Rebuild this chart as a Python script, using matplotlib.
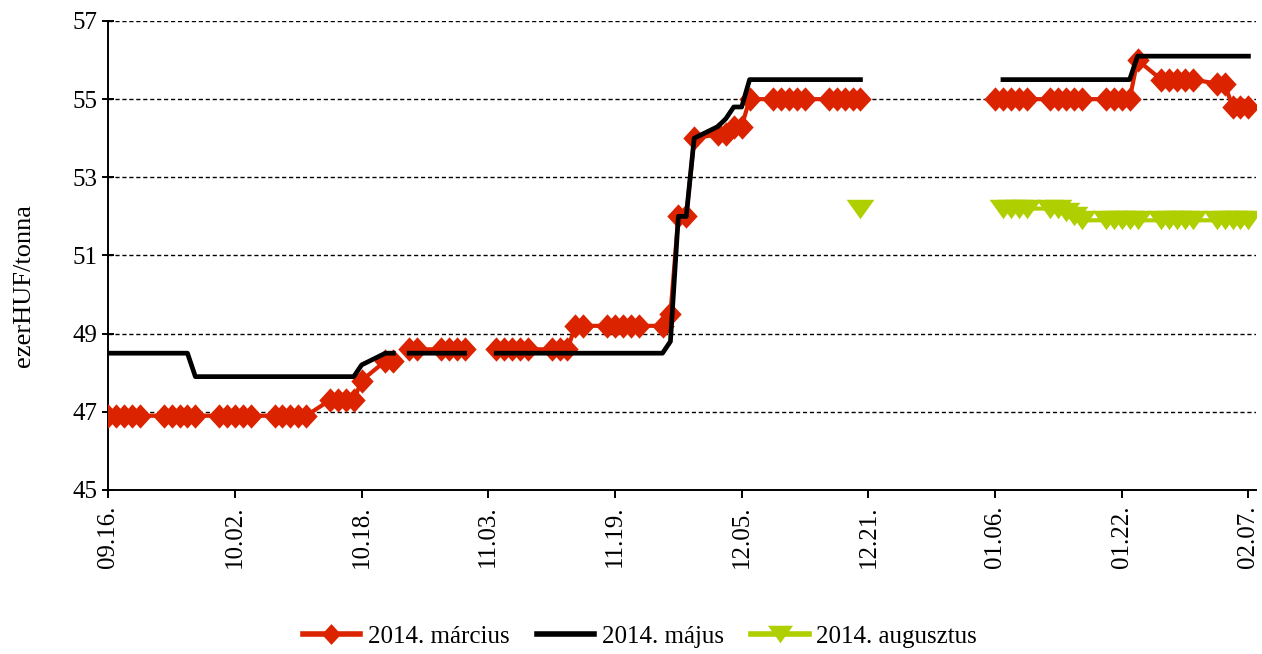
import numpy as np
import pandas as pd
import matplotlib
matplotlib.use("Agg")
import matplotlib.pyplot as plt
import matplotlib.dates as mdates
from matplotlib.lines import Line2D

plt.rcParams["font.family"] = ["Liberation Serif", "DejaVu Serif"]
plt.rcParams["font.size"] = 18

nan = np.nan

# kereskedési napok (hétfő-péntek), 2013.09.16 - 2014.02.07
days = pd.bdate_range("2013-09-16", "2014-02-07")

# heti bontásban, hétfőtől péntekig
marcius = [
    46.9, 46.9, 46.9, 46.9, 46.9,
    46.9, 46.9, 46.9, 46.9, 46.9,
    46.9, 46.9, 46.9, 46.9, 46.9,
    46.9, 46.9, 46.9, 46.9, 46.9,
    47.3, 47.3, 47.3, 47.3, 47.8,
    48.3, 48.3, nan, 48.6, 48.6,
    48.6, 48.6, 48.6, 48.6, nan,
    48.6, 48.6, 48.6, 48.6, 48.6,
    48.6, 48.6, 48.6, 49.2, 49.2,
    49.2, 49.2, 49.2, 49.2, 49.2,
    49.2, 49.5, 52.0, 52.0, 54.0,
    54.1, 54.1, 54.3, 54.3, 55.0,
    55.0, 55.0, 55.0, 55.0, 55.0,
    55.0, 55.0, 55.0, 55.0, 55.0,
    nan, nan, nan, nan, nan,
    nan, nan, nan, nan, nan,
    55.0, 55.0, 55.0, 55.0, 55.0,
    55.0, 55.0, 55.0, 55.0, 55.0,
    55.0, 55.0, 55.0, 55.0, 56.0,
    55.5, 55.5, 55.5, 55.5, 55.5,
    55.4, 55.4, 54.8, 54.8, 54.8,
]

majus = [
    48.5, 48.5, 48.5, 48.5, 48.5,
    48.5, 48.5, 48.5, 48.5, 47.9,
    47.9, 47.9, 47.9, 47.9, 47.9,
    47.9, 47.9, 47.9, 47.9, 47.9,
    47.9, 47.9, 47.9, 47.9, 48.2,
    48.5, 48.5, nan, 48.5, 48.5,
    48.5, 48.5, 48.5, 48.5, nan,
    48.5, 48.5, 48.5, 48.5, 48.5,
    48.5, 48.5, 48.5, 48.5, 48.5,
    48.5, 48.5, 48.5, 48.5, 48.5,
    48.5, 48.8, 52.0, 52.0, 54.0,
    54.3, 54.5, 54.8, 54.8, 55.5,
    55.5, 55.5, 55.5, 55.5, 55.5,
    55.5, 55.5, 55.5, 55.5, 55.5,
    nan, nan, nan, nan, nan,
    nan, nan, nan, nan, nan,
    nan, 55.5, 55.5, 55.5, 55.5,
    55.5, 55.5, 55.5, 55.5, 55.5,
    55.5, 55.5, 55.5, 55.5, 56.1,
    56.1, 56.1, 56.1, 56.1, 56.1,
    56.1, 56.1, 56.1, 56.1, 56.1,
]

augusztus = [nan] * 65 + [
    nan, nan, nan, nan, 52.2,
    nan, nan, nan, nan, nan,
    nan, nan, nan, nan, nan,
    nan, 52.2, 52.2, 52.2, 52.2,
    52.2, 52.2, 52.1, 52.0, 51.9,
    51.9, 51.9, 51.9, 51.9, 51.9,
    51.9, 51.9, 51.9, 51.9, 51.9,
    51.9, 51.9, 51.9, 51.9, 51.9,
]

series_labels = ["2014. március", "2014. május", "2014. augusztus"]
y_ticks = [45, 47, 49, 51, 53, 55, 57]
x_ticks = pd.date_range("2013-09-16", periods=10, freq="16D")

RED = "#DC2300"
GREEN = "#AFCF00"

# Excel-szerű markerek: rombusz, lapos lefelé álló háromszög
diamond = [(0, 1), (0.92, 0), (0, -1), (-0.92, 0), (0, 1)]
tri_down = [(-1, 0.7), (1, 0.7), (0, -0.7), (-1, 0.7)]

fig = plt.figure(figsize=(12.62, 6.54), dpi=100)
ax = fig.add_axes([0.0858, 0.2508, 0.9097, 0.7171])

ax.plot(days, marcius, color=RED, lw=3, marker=diamond, ms=17.5,
        mfc=RED, mec=RED, mew=0, zorder=3)
ax.plot(days, majus, color="black", lw=3.4, zorder=4)
ax.plot(days, augusztus, color=GREEN, lw=3, marker=tri_down, ms=20,
        mfc=GREEN, mec=GREEN, mew=0, zorder=5)

ax.set_xlim(pd.Timestamp("2013-09-16"), pd.Timestamp("2014-02-08"))
ax.set_ylim(45, 57)
ax.set_yticks(y_ticks)
ax.set_xticks(x_ticks)
ax.xaxis.set_major_formatter(mdates.DateFormatter("%m.%d."))
plt.setp(ax.get_xticklabels(), rotation=90)

for y in y_ticks[1:]:
    ax.axhline(y, color="black", lw=1.0, ls=(0, (3, 2)), zorder=1)

for side in ["top", "right"]:
    ax.spines[side].set_visible(False)
for side in ["left", "bottom"]:
    ax.spines[side].set_linewidth(1.4)
ax.tick_params(axis="y", direction="inout", length=9, width=1.4, pad=3)
ax.tick_params(axis="x", direction="out", length=6, width=1.4, pad=5)

ax.set_ylabel("ezerHUF/tonna", fontsize=19)
ax.yaxis.set_label_coords(-0.064, 0.435)

handles = [
    Line2D([], [], color=RED, lw=4, marker=diamond, ms=15, mfc=RED, mew=0),
    Line2D([], [], color="black", lw=4),
    Line2D([], [], color=GREEN, lw=4, marker=tri_down, ms=18, mfc=GREEN, mew=0),
]
fig.legend(handles, series_labels, loc="center", bbox_to_anchor=(0.507, 0.026),
           ncol=3, frameon=False, handlelength=2.3, handletextpad=0.3,
           columnspacing=1.1, fontsize=18)

fig.savefig("out.png", dpi=100)
